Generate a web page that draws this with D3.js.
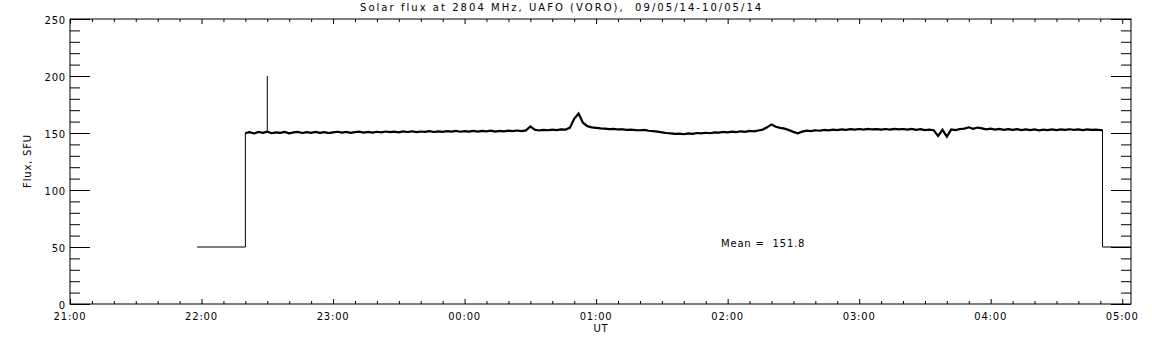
<!DOCTYPE html>
<html>
<head>
<meta charset="utf-8">
<script src="https://cdn.jsdelivr.net/npm/d3@7"></script>
<style>
  body { margin: 0; background: #fff; }
  text { font-family: "DejaVu Sans", sans-serif; font-size: 10px; fill: #000; letter-spacing: 0.8px; white-space: pre; }
</style>
</head>
<body>
<svg width="1152" height="345"></svg>
<script>
/// Data ///
var day = "2014-05-09";
var nextDay = "2014-05-10";
var title = "Solar flux at 2804 MHz, UAFO (VORO),  09/05/14-10/05/14";
var yLabel = "Flux, SFU";
var xLabel = "UT";
var meanText = "Mean =  151.8";

var xDomain = ["21:00", "05:04"];
var xTickLabels = ["21:00", "22:00", "23:00", "00:00", "01:00", "02:00", "03:00", "04:00", "05:00"];
var yTicks = [0, 50, 100, 150, 200, 250];

// calibration level before / after the observing session
var offLevel = 50;
var offBefore = ["21:58", "22:20"];
var offAfter = ["04:51", "05:04"];

// short burst
var spikeTime = "22:30";
var spikeTop = 200;

// flux samples every 2 minutes, 22:20 .. 04:50
var sampleStart = "22:20";
var sampleStep = 2;
var flux = [
  150.0,150.8,149.6,150.9,150.2,151.1,149.8,150.6,150.1,151.0,149.7,150.5,150.9,150.0,150.7,
  150.2,151.0,150.1,150.8,149.9,150.6,151.1,150.3,150.9,150.2,150.8,151.2,150.4,150.9,150.3,
  151.1,150.5,151.3,150.7,151.2,150.6,151.4,150.9,151.5,150.8,151.3,151.0,151.6,150.9,151.4,
  151.0,151.6,151.2,151.8,151.1,151.7,151.3,151.9,151.2,151.8,151.4,152.0,151.3,151.9,151.5,
  152.1,151.6,152.2,151.7,152.3,155.8,152.9,152.2,152.8,152.4,153.0,152.6,153.2,153.0,154.5,
  162.5,167.0,159.0,156.0,155.0,154.5,154.0,153.8,153.4,153.6,153.1,153.3,152.8,153.0,152.6,
  152.4,152.7,152.0,151.6,151.2,150.6,150.0,149.6,149.2,149.5,148.9,149.6,149.3,150.0,149.6,
  150.2,149.8,150.6,150.3,150.9,150.5,151.2,150.8,151.5,151.0,151.8,151.4,152.2,153.0,155.0,
  157.5,155.5,154.5,153.8,152.5,151.0,149.8,151.2,152.0,151.6,152.4,152.0,152.8,152.3,153.0,
  152.6,153.2,152.8,153.4,152.9,153.5,153.0,153.6,153.1,153.4,152.9,153.5,153.0,153.6,153.2,
  153.5,153.0,153.6,152.8,153.3,152.5,153.0,152.4,147.5,152.8,146.8,153.2,152.6,153.5,153.8,
  155.0,153.6,154.8,154.0,153.2,153.8,153.0,153.6,152.8,153.4,152.7,153.3,152.6,153.2,152.5,
  153.1,152.4,153.0,152.5,153.2,152.6,153.1,152.7,153.3,152.8,153.2,152.6,153.1,152.7,153.0,
  152.6
];

/// Settings ///
var svg = d3.select("svg");
var mLeft = 70, mRight = 1131, mTop = 19, mBottom = 304;

function toDate(hm) {
  var h = +hm.slice(0, 2);
  return new Date((h >= 12 ? day : nextDay) + "T" + hm + ":00");
}

var x = d3.scaleTime()
    .domain(xDomain.map(toDate))
    .range([mLeft, mRight]);

var y = d3.scaleLinear()
    .domain([0, 250])
    .range([mBottom, mTop]);

/// Series ///
var t0 = toDate(sampleStart);
var samples = flux.map(function(v, i) {
  return [new Date(+t0 + i * sampleStep * 60000), v];
});

var pts = [];
pts.push([toDate(offBefore[0]), offLevel]);
pts.push([toDate(offBefore[1]), offLevel]);
pts = pts.concat(samples);
pts.push([toDate(offAfter[0]), flux[flux.length - 1]]);
pts.push([toDate(offAfter[0]), offLevel]);
pts.push([toDate(offAfter[1]), offLevel]);

var line = d3.line()
    .x(function(d) { return x(d[0]); })
    .y(function(d) { return y(d[1]); });

// whole record, thin
svg.append("path")
    .datum(pts)
    .attr("fill", "none")
    .attr("stroke", "#000")
    .attr("stroke-width", 1)
    .attr("d", line);

// noisy sampled part drawn as a thicker band
svg.append("path")
    .datum(samples.concat([[toDate(offAfter[0]), flux[flux.length - 1]]]))
    .attr("fill", "none")
    .attr("stroke", "#000")
    .attr("stroke-width", 2.2)
    .attr("d", line);

// burst
var spikeBase = flux[Math.round((toDate(spikeTime) - t0) / 60000 / sampleStep)];
svg.append("line")
    .attr("x1", x(toDate(spikeTime))).attr("x2", x(toDate(spikeTime)))
    .attr("y1", y(spikeBase)).attr("y2", y(spikeTop))
    .attr("stroke", "#000").attr("stroke-width", 1);

/// Axes ///
var majorX = x.ticks(d3.timeHour.every(1));
var minorX = x.ticks(d3.timeMinute.every(10));

function xAxis(len, minorLen, dir) {
  return function(g) {
    g.call(d3.axisBottom(x).tickValues(minorX).tickSize(0).tickFormat(""));
    g.select(".domain").remove();
    g.selectAll(".tick line").remove();
    g.selectAll(".tick").append("line")
        .attr("stroke", "#000")
        .attr("y2", function(d) { return dir * (d.getMinutes() === 0 ? len : minorLen); });
  };
}

svg.append("g").attr("transform", "translate(0," + mBottom + ")").call(xAxis(5, 3, -1));
svg.append("g").attr("transform", "translate(0," + mTop + ")").call(xAxis(5, 3, 1));

var minorY = d3.range(0, 251, 10);
function yAxis(len, minorLen, dir) {
  return function(g) {
    g.call(d3.axisLeft(y).tickValues(minorY).tickSize(0).tickFormat(""));
    g.select(".domain").remove();
    g.selectAll(".tick line").remove();
    g.selectAll(".tick").append("line")
        .attr("stroke", "#000")
        .attr("x2", function(d) { return dir * (d % 50 === 0 ? len : minorLen); });
  };
}
svg.append("g").attr("transform", "translate(" + mLeft + ",0)").call(yAxis(20, 10, 1));
svg.append("g").attr("transform", "translate(" + mRight + ",0)").call(yAxis(20, 10, -1));

// frame
svg.append("rect")
    .attr("x", mLeft).attr("y", mTop)
    .attr("width", mRight - mLeft).attr("height", mBottom - mTop)
    .attr("fill", "none").attr("stroke", "#000").attr("stroke-width", 1);

// tick labels
svg.append("g").selectAll("text")
  .data(majorX)
  .enter().append("text")
    .attr("x", function(d) { return x(d); })
    .attr("y", 320)
    .attr("text-anchor", "middle")
    .text(function(d, i) { return xTickLabels[i]; });

svg.append("g").selectAll("text")
  .data(yTicks)
  .enter().append("text")
    .attr("x", 66)
    .attr("y", function(d) { return y(d) + 4.5; })
    .attr("text-anchor", "end")
    .text(function(d) { return d; });

// titles
svg.append("text")
    .attr("x", 360).attr("y", 11)
    .attr("textLength", 402).attr("lengthAdjust", "spacing")
    .text(title);

svg.append("text")
    .attr("x", 601).attr("y", 332)
    .attr("text-anchor", "middle")
    .text(xLabel);

svg.append("text")
    .attr("transform", "translate(31,161) rotate(-90)")
    .attr("text-anchor", "middle")
    .text(yLabel);

svg.append("text")
    .attr("x", 721).attr("y", 247)
    .text(meanText);
</script>
</body>
</html>
